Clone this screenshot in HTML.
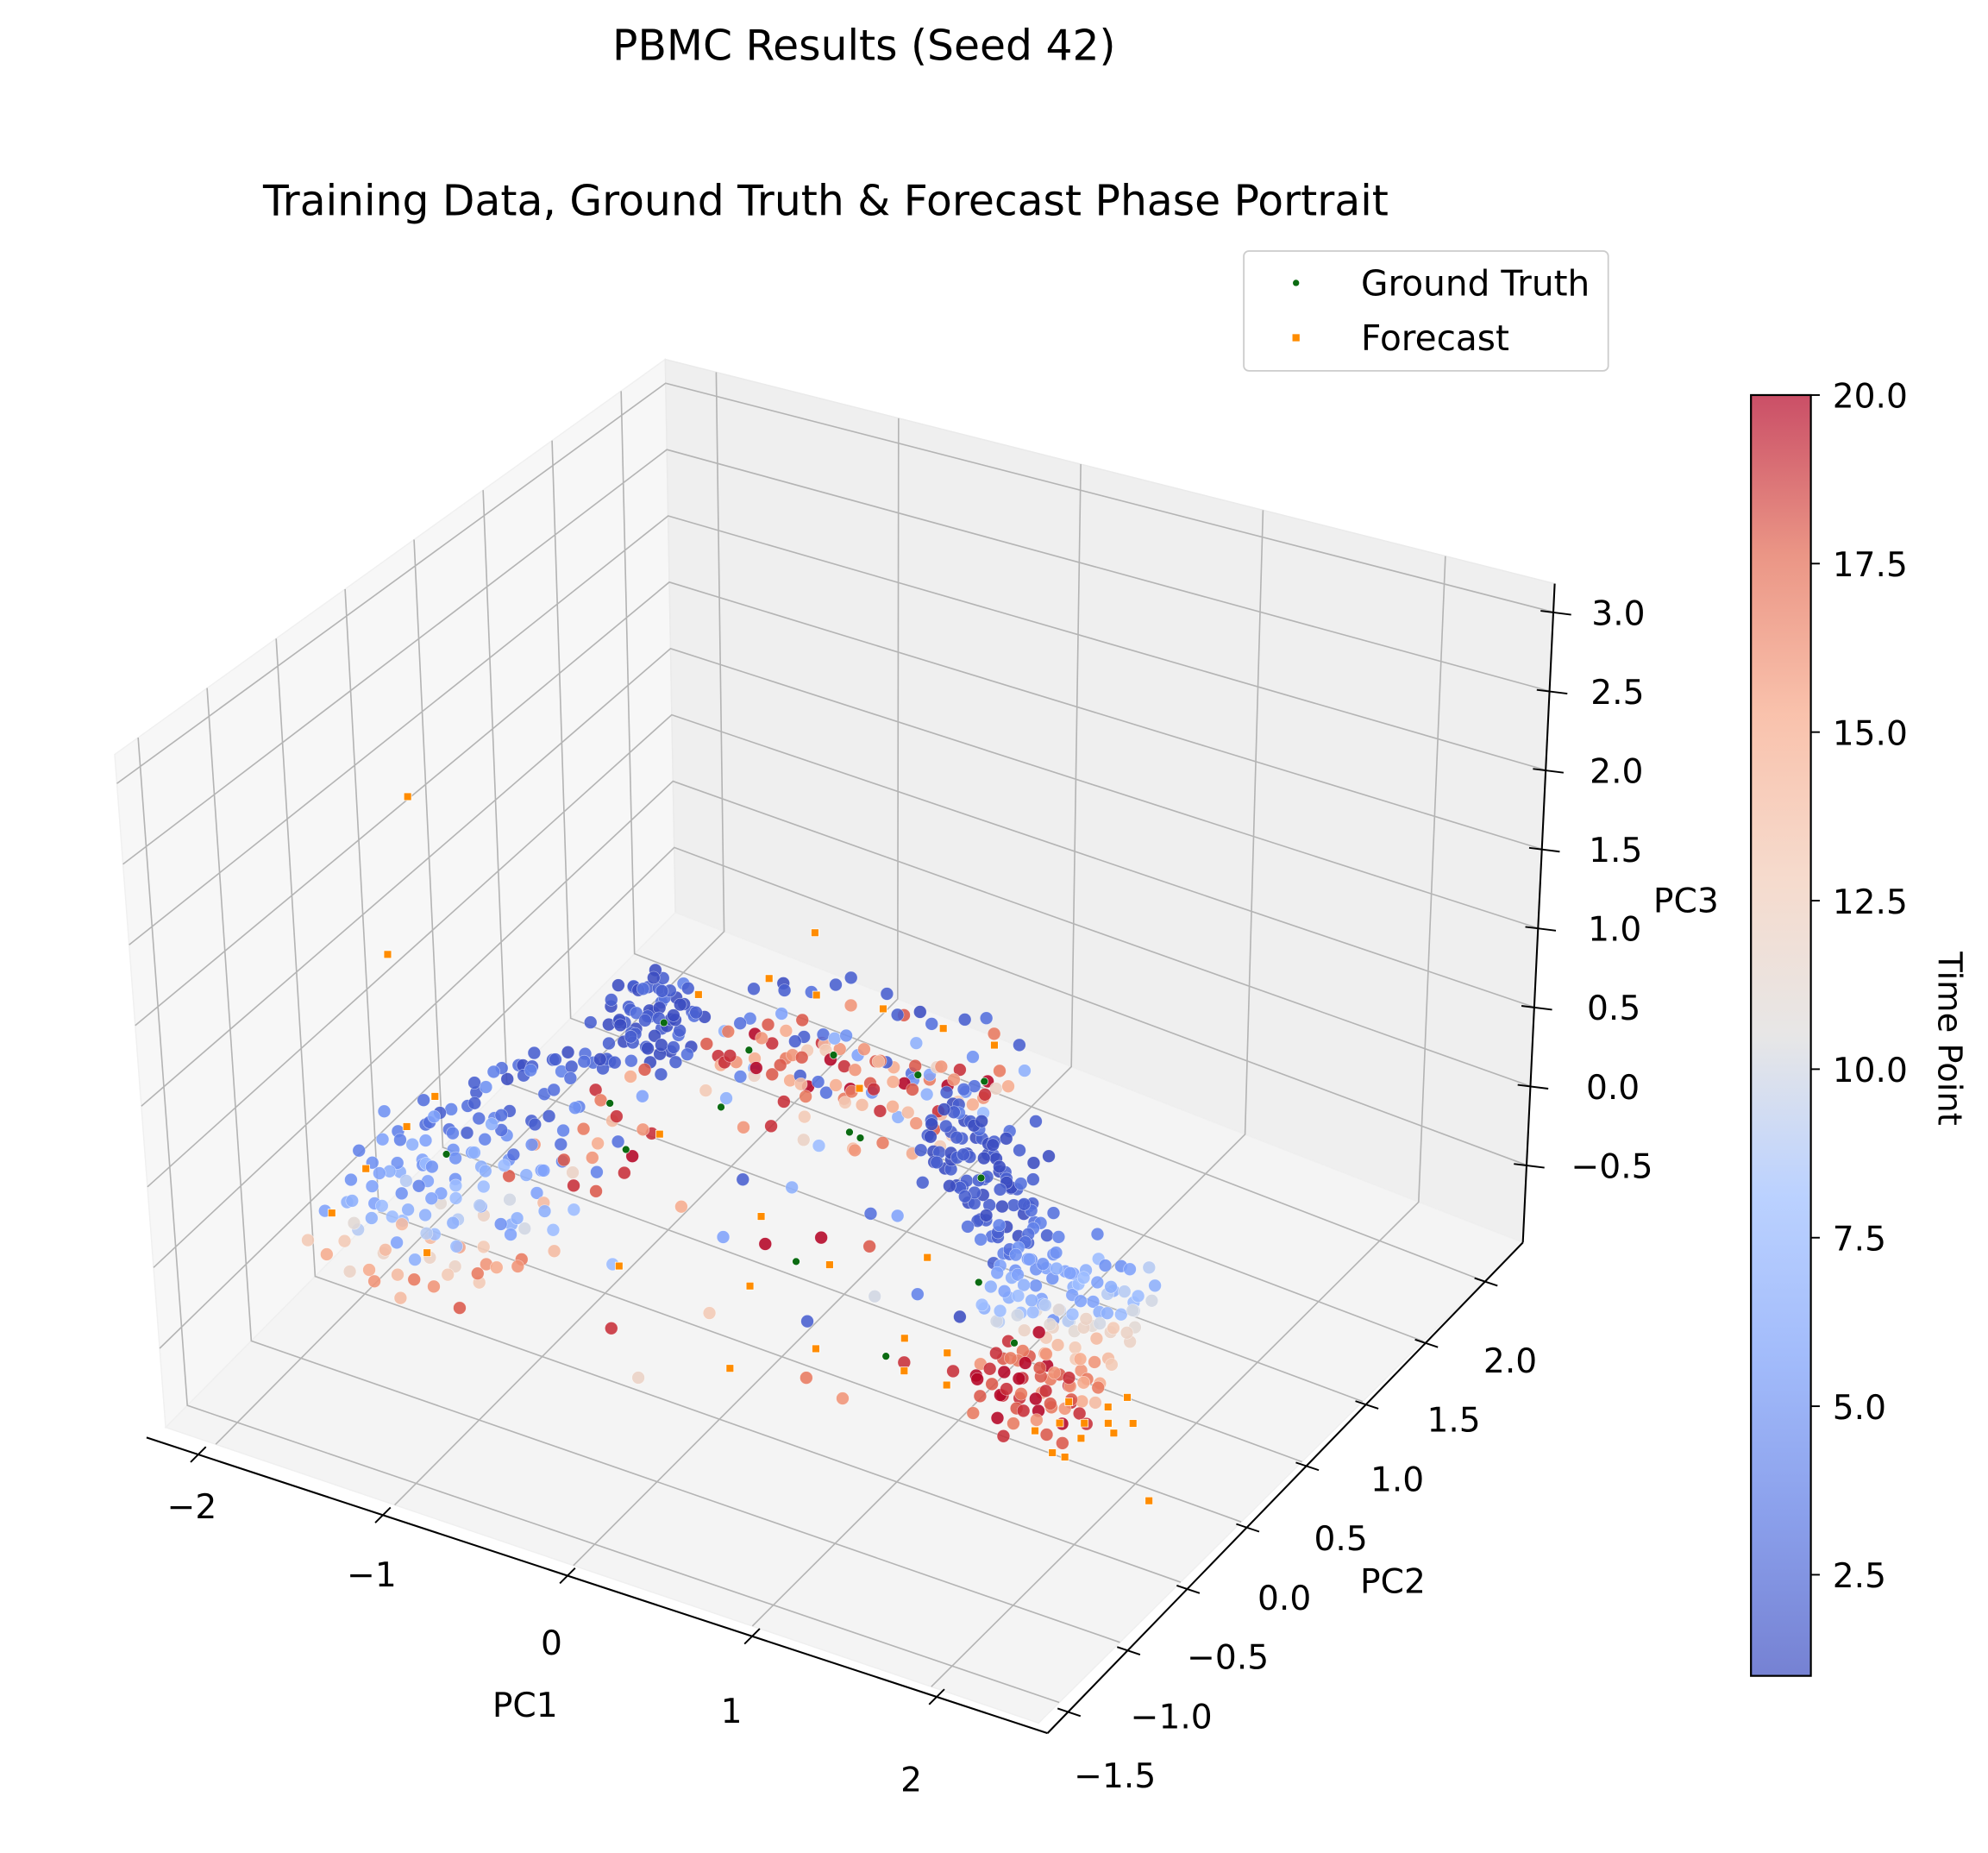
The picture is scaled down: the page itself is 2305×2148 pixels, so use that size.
<!DOCTYPE html>
<html><head><meta charset="utf-8"><style>
html,body{margin:0;padding:0;background:#fff;}
svg{display:block;font-family:"DejaVu Sans","Liberation Sans",sans-serif;}
</style></head><body>
<svg id="chart" width="2305" height="2148" viewBox="0 0 1560 1454" preserveAspectRatio="none" xmlns="http://www.w3.org/2000/svg">
<defs>
<linearGradient id="cbgrad" x1="0" y1="1" x2="0" y2="0">
<stop offset="0" stop-color="#3b4cc0"/><stop offset="0.125" stop-color="#5977e3"/><stop offset="0.25" stop-color="#7b9ff9"/><stop offset="0.375" stop-color="#9ebeff"/><stop offset="0.5" stop-color="#dddcdc"/><stop offset="0.625" stop-color="#f2cbb7"/><stop offset="0.75" stop-color="#f7a889"/><stop offset="0.875" stop-color="#e26952"/><stop offset="1" stop-color="#b40426"/>
</linearGradient>
</defs>
<text x="678" y="47" font-size="33" text-anchor="middle">PBMC Results (Seed 42)</text>
<text x="648" y="169" font-size="33" text-anchor="middle">Training Data, Ground Truth &amp; Forecast Phase Portrait</text>
<g id="panes"></g>
<g id="grid"></g>
<g id="axes"></g>
<g id="points"></g>
<g>
<rect x="976" y="197" width="286" height="94" rx="4" fill="#fff" fill-opacity="0.8" stroke="#cccccc" stroke-width="1.2"/>
<circle cx="1017" cy="222" r="2.5" fill="#0b6b12"/>
<text x="1068" y="232" font-size="27.5">Ground Truth</text>
<rect x="1014.2" y="262.2" width="5.6" height="5.6" fill="#ff8c00"/>
<text x="1068" y="275" font-size="27.5">Forecast</text>
</g>
<g id="colorbar">
<rect x="1374" y="310" width="47" height="1005" fill="url(#cbgrad)" fill-opacity="0.7" stroke="#000" stroke-width="1.5"/>
<text transform="translate(1521,815) rotate(90)" font-size="26" text-anchor="middle">Time Point</text>
</g>
</svg>
<script>
const XMIN=-2.28, XMAX=2.6, YMIN=-1.67, YMAX=2.32, ZMIN=-0.99, ZMAX=3.18;
const xTicks=[-2,-1,0,1,2];
const yTicks=[-1.5,-1.0,-0.5,0.0,0.5,1.0,1.5,2.0];
const zTicks=[-0.5,0.0,0.5,1.0,1.5,2.0,2.5,3.0];
const cbTicks=[2.5,5.0,7.5,10.0,12.5,15.0,17.5,20.0];
const TMIN=1, TMAX=20;

const trainLeft=[[-1.30,-1.55,0.45,13],[-1.22,-1.45,0.55,7],[-1.15,-1.58,0.35,15],[-1.05,-1.50,0.5,6],[-0.98,-1.60,0.4,14],[-0.90,-1.42,0.55,8],[-0.82,-1.55,0.35,16],[-0.75,-1.48,0.45,12],[-0.66,-1.58,0.3,18],[-0.58,-1.40,0.45,15],
[-1.32,-1.30,0.6,6],[-1.25,-1.20,0.7,5],[-1.18,-1.35,0.5,8],[-1.10,-1.25,0.65,4],[-1.02,-1.32,0.55,7],[-0.95,-1.18,0.7,5],[-0.87,-1.28,0.55,9],[-0.80,-1.20,0.6,6],[-0.72,-1.30,0.45,13],[-0.64,-1.15,0.55,7],[-0.55,-1.25,0.4,17],[-0.48,-1.10,0.5,8],
[-1.34,-1.05,0.7,4],[-1.27,-0.95,0.75,3],[-1.20,-1.08,0.65,6],[-1.12,-0.98,0.8,3],[-1.04,-1.05,0.7,5],[-0.97,-0.92,0.75,4],[-0.90,-1.02,0.65,7],[-0.82,-0.95,0.7,5],[-0.75,-1.05,0.55,10],[-0.68,-0.90,0.65,6],[-0.60,-1.00,0.55,14],[-0.52,-0.88,0.6,19],[-0.45,-0.98,0.55,8],
[-1.30,-0.80,0.7,2],[-1.22,-0.70,0.7,3],[-1.14,-0.82,0.65,2],[-1.06,-0.72,0.7,4],[-0.98,-0.78,0.7,3],[-0.90,-0.66,0.7,2],[-0.83,-0.76,0.65,5],[-0.75,-0.65,0.6,3],[-0.67,-0.74,0.6,18],[-0.60,-0.62,0.55,16],[-0.52,-0.70,0.55,4],[-0.44,-0.60,0.5,19],
[-1.28,-0.55,0.65,2],[-1.18,-0.45,0.7,1],[-1.10,-0.55,0.6,2],[-1.00,-0.42,0.65,3],[-0.92,-0.50,0.6,2],[-0.84,-0.38,0.6,4],[-0.76,-0.46,0.55,17],[-0.68,-0.35,0.55,14],[-0.60,-0.42,0.5,3],[-0.50,-0.30,0.5,19],
[-1.20,-1.40,0.3,12],[-1.00,-1.45,0.25,17],[-0.85,-1.40,0.3,13],[-1.28,-1.10,0.5,9],[-1.08,-1.12,0.45,11],[-0.70,-1.12,0.4,6],[-0.92,-0.85,0.55,8],[-1.15,-0.62,0.55,7],
[-1.30,-0.20,0.55,3],[-1.22,-0.05,0.5,2],[-1.15,0.10,0.45,3],[-1.28,0.05,0.4,2],[-1.10,-0.15,0.55,4],[-1.05,0.15,0.4,2],[-1.35,-0.10,0.45,1],[-1.18,0.20,0.3,3],[-0.95,-0.10,0.45,19],[-0.90,0.10,0.4,15],[-0.85,-0.20,0.5,17],[-0.80,0.05,0.35,6]];
const trainLeft2=[[-1.26,-1.50,0.5,9],[-1.10,-1.52,0.45,14],[-0.94,-1.52,0.45,7],[-0.78,-1.40,0.5,15],[-0.62,-1.48,0.4,13],[-0.50,-1.35,0.45,16],
[-1.28,-1.22,0.65,7],[-1.14,-1.16,0.7,5],[-0.98,-1.25,0.65,6],[-0.84,-1.12,0.65,8],[-0.68,-1.22,0.55,5],[-0.56,-1.05,0.55,7],[-0.42,-1.18,0.45,14],
[-1.30,-0.88,0.7,3],[-1.16,-0.90,0.7,4],[-1.00,-0.98,0.7,6],[-0.86,-0.86,0.65,3],[-0.72,-0.96,0.65,7],[-0.58,-0.80,0.6,12],[-0.44,-0.82,0.55,18],
[-1.24,-0.62,0.65,2],[-1.08,-0.64,0.65,3],[-0.94,-0.58,0.6,2],[-0.80,-0.56,0.6,4],[-0.64,-0.52,0.55,15],[-0.48,-0.48,0.5,20],
[-1.20,-0.30,0.6,2],[-1.05,-0.28,0.55,3],[-0.92,-0.30,0.5,5],[-0.75,-0.22,0.45,19],[-0.62,-0.20,0.4,16],
[-1.24,-1.00,0.55,8],[-1.06,-0.88,0.6,7],[-0.88,-1.10,0.5,9],[-0.74,-0.80,0.55,6],[-0.60,-1.15,0.5,10],[-1.34,-1.42,0.45,11],[-1.18,-1.28,0.4,14],[-0.96,-1.38,0.35,12],[-0.70,-1.38,0.35,17]];
const trainLeft3=[[-1.40,-0.40,0.55,2],[-1.32,-0.30,0.6,3],[-1.24,-0.18,0.55,2],[-1.16,-0.30,0.65,4],[-1.08,-0.10,0.55,2],[-1.00,-0.22,0.6,3],[-1.36,0.00,0.45,2],[-1.26,0.12,0.4,1],[-1.12,0.05,0.45,3],[-0.98,0.00,0.5,2],[-1.44,-0.20,0.45,4],[-1.30,-0.45,0.6,5],
[-1.40,-1.55,0.6,6],[-1.36,-1.40,0.7,5],[-1.30,-1.48,0.65,7],[-1.24,-1.35,0.75,6],[-1.16,-1.45,0.65,8],[-1.10,-1.38,0.7,5],[-1.04,-1.42,0.65,7],[-0.96,-1.35,0.7,6],[-0.90,-1.48,0.6,9],[-0.84,-1.36,0.6,7],[-0.76,-1.45,0.55,8],[-1.42,-1.25,0.75,4],[-1.34,-1.18,0.8,6],[-1.20,-1.15,0.8,7],[-1.06,-1.20,0.75,5],[-0.92,-1.22,0.7,8],[-1.45,-1.62,0.45,13],[-1.35,-1.62,0.4,15],[-1.22,-1.63,0.35,12],[-1.08,-1.64,0.35,16],[-0.94,-1.64,0.3,14],[-1.42,-1.05,0.85,5],[-1.20,-0.98,0.85,6]];
const trainLeftCore=[[-1.35,-1.45,0.6,7],[-1.20,-1.45,0.65,6],[-1.05,-1.45,0.6,8],[-0.90,-1.45,0.55,14],[-0.75,-1.45,0.55,6],[-0.60,-1.45,0.5,16],
[-1.35,-1.25,0.7,5],[-1.20,-1.25,0.7,7],[-1.05,-1.25,0.7,6],[-0.90,-1.25,0.65,8],[-0.75,-1.25,0.6,12],[-0.60,-1.25,0.6,7],
[-1.35,-1.05,0.75,4],[-1.20,-1.05,0.75,6],[-1.05,-1.05,0.75,5],[-0.90,-1.05,0.7,7],[-0.75,-1.05,0.7,18],[-0.60,-1.05,0.65,6],
[-1.35,-0.85,0.8,3],[-1.20,-0.85,0.8,4],[-1.05,-0.85,0.8,3],[-0.90,-0.85,0.75,5],[-0.75,-0.85,0.75,16],[-0.60,-0.85,0.7,4]];
const trainBlueCluster=[[-1.20,0.35,0.3,2],[-1.12,0.45,0.35,1],[-1.05,0.55,0.3,2],[-0.98,0.40,0.4,1],[-0.92,0.50,0.35,3],[-1.15,0.60,0.3,2],[-1.08,0.30,0.4,1],[-1.00,0.62,0.25,2],[-0.95,0.32,0.3,1],[-1.18,0.48,0.45,2],[-1.02,0.45,0.5,1],[-0.90,0.58,0.45,2],[-1.10,0.38,0.2,3],[-0.98,0.52,0.2,1],[-1.22,0.55,0.2,2],[-0.88,0.42,0.25,2],[-1.06,0.68,0.4,1],[-1.14,0.25,0.3,2],[-0.94,0.65,0.35,3],[-1.25,0.42,0.35,1],[-1.00,0.28,0.5,2],[-0.85,0.50,0.3,1],[-1.12,0.55,0.55,2],[-1.04,0.40,0.15,18],[-0.96,0.60,0.6,4],
[-1.16,0.42,0.4,2],[-1.08,0.50,0.45,1],[-1.00,0.36,0.35,2],[-0.94,0.44,0.45,1],[-1.10,0.62,0.4,3],[-1.02,0.58,0.35,1],[-0.92,0.36,0.2,2],[-1.20,0.28,0.25,1],[-1.06,0.20,0.35,2],[-0.86,0.62,0.4,1],[-1.26,0.60,0.3,2],[-1.14,0.70,0.35,3],[-0.98,0.72,0.3,2],[-0.88,0.30,0.4,1],[-1.30,0.35,0.4,2],[-0.80,0.40,0.35,3],[-1.18,0.52,0.55,1],[-1.04,0.52,0.6,2],[-0.90,0.52,0.55,1],[-1.12,0.32,0.5,2],
[-1.22,0.40,0.5,1],[-1.15,0.48,0.6,2],[-1.08,0.42,0.65,1],[-1.00,0.50,0.7,2],[-0.95,0.40,0.6,1],[-1.18,0.35,0.6,2],[-1.10,0.58,0.65,1],[-1.02,0.32,0.6,3],[-0.92,0.58,0.6,2],[-1.25,0.50,0.55,1],[-1.05,0.62,0.5,2],[-0.98,0.45,0.3,1],[-1.14,0.45,0.25,2],[-1.20,0.62,0.45,3],[-0.90,0.45,0.5,1],
[-1.16,0.38,0.45,1],[-1.06,0.46,0.45,2],[-0.96,0.52,0.45,1],[-1.12,0.52,0.35,2],[-1.02,0.40,0.3,1],[-0.92,0.46,0.3,2],[-1.20,0.44,0.35,1],[-1.08,0.60,0.5,2],[-0.98,0.60,0.45,1],[-1.04,0.30,0.45,2],[-1.14,0.62,0.55,1],[-0.94,0.38,0.55,2]];
const trainArch=[[-0.80,0.55,0.3,18],[-0.72,0.70,0.35,3],[-0.65,0.45,0.3,15],[-0.58,0.62,0.4,20],[-0.50,0.50,0.25,12],[-0.45,0.75,0.3,2],[-0.38,0.58,0.35,17],[-0.30,0.45,0.2,19],[-0.25,0.70,0.4,14],[-0.18,0.55,0.3,3],[-0.10,0.80,0.35,16],[-0.05,0.62,0.25,20],[0.02,0.48,0.3,13],[0.08,0.72,0.4,2],[0.15,0.85,0.3,18],[0.20,0.60,0.25,15],[0.28,0.78,0.35,6],[0.35,0.92,0.3,19],[0.40,0.70,0.2,14],[0.48,0.85,0.3,3],[0.55,0.95,0.35,17],[0.60,0.75,0.25,8],
[-0.75,0.85,0.45,2],[-0.62,0.90,0.5,1],[-0.50,0.95,0.45,3],[-0.40,1.00,0.5,2],[-0.28,0.95,0.45,16],[-0.15,1.05,0.5,2],[-0.02,1.00,0.45,18],[0.10,1.05,0.4,3],[0.25,1.10,0.45,2],[0.40,1.12,0.4,17],[0.52,1.15,0.35,2],
[-0.70,0.40,0.15,13],[-0.55,0.35,0.2,7],[-0.42,0.30,0.1,16],[-0.28,0.32,0.15,19],[-0.12,0.35,0.1,12],[0.00,0.30,0.15,8],[0.12,0.40,0.1,14],[0.25,0.45,0.15,17],[0.38,0.50,0.1,10],[0.50,0.55,0.15,13],
[-0.60,0.78,0.2,19],[-0.35,0.85,0.2,13],[-0.08,0.90,0.2,17],[0.18,0.98,0.2,12],[0.45,1.00,0.2,20],[0.30,0.62,0.45,5],[-0.20,0.62,0.55,3],[0.05,0.85,0.6,2],
[-0.75,0.62,0.35,7],[-0.68,0.52,0.25,19],[-0.60,0.70,0.3,16],[-0.52,0.42,0.3,4],[-0.44,0.62,0.25,18],[-0.36,0.72,0.3,13],[-0.28,0.55,0.3,2],[-0.20,0.48,0.25,17],[-0.14,0.70,0.3,19],[-0.06,0.52,0.35,15],[0.04,0.65,0.3,18],[0.12,0.55,0.35,5],[0.18,0.72,0.3,20],[0.26,0.90,0.3,16],[0.32,0.55,0.3,14],[0.44,0.62,0.3,19],[0.52,0.78,0.25,15],[0.58,0.88,0.3,12],[0.36,0.80,0.25,2],[-0.02,0.80,0.3,14],[-0.48,0.85,0.35,18],[-0.30,0.85,0.3,7],[0.00,1.10,0.4,1],[-0.40,1.12,0.45,2],[0.30,1.20,0.4,3],[-0.65,0.95,0.4,2],[0.62,1.05,0.3,7],[-0.15,0.40,0.2,13],[0.20,0.30,0.2,16],[0.45,0.40,0.2,15],
[-0.70,0.58,0.4,17],[-0.62,0.48,0.35,19],[-0.54,0.56,0.3,15],[-0.46,0.46,0.35,20],[-0.40,0.66,0.3,16],[-0.32,0.62,0.35,18],[-0.24,0.50,0.3,14],[-0.16,0.62,0.4,20],[-0.08,0.70,0.3,16],[0.00,0.56,0.3,17],[0.08,0.62,0.3,19],[0.16,0.66,0.35,15],[0.24,0.70,0.3,18],[0.32,0.70,0.3,7],[0.40,0.80,0.35,16],[0.48,0.72,0.3,13],[0.56,0.82,0.3,19],[0.62,0.92,0.3,15],[-0.56,0.80,0.4,6],[-0.20,0.80,0.4,5],[0.12,0.90,0.4,7],[0.38,0.98,0.35,5]];
const trainArchCore=[[-0.7,0.5,0.3,19],[-0.6,0.5,0.3,16],[-0.5,0.5,0.3,6],[-0.4,0.5,0.3,18],[-0.3,0.5,0.3,15],[-0.2,0.5,0.3,20],[-0.1,0.5,0.3,3],[0.0,0.5,0.3,17],[0.1,0.5,0.3,14],[0.2,0.5,0.3,19],[0.3,0.5,0.3,7],[0.4,0.5,0.3,16],[0.5,0.5,0.3,18],[0.6,0.5,0.3,13],
[-0.7,0.75,0.35,4],[-0.6,0.75,0.35,18],[-0.5,0.75,0.35,15],[-0.4,0.75,0.35,2],[-0.3,0.75,0.35,19],[-0.2,0.75,0.35,16],[-0.1,0.75,0.35,6],[0.0,0.75,0.35,18],[0.1,0.75,0.35,15],[0.2,0.75,0.35,3],[0.3,0.75,0.35,17],[0.4,0.75,0.35,20],[0.5,0.75,0.35,5],[0.6,0.75,0.35,16]];
const trainRightBlue=[[0.45,0.55,0.3,2],[0.55,0.40,0.35,1],[0.62,0.55,0.25,2],[0.70,0.35,0.3,1],[0.75,0.50,0.4,3],[0.82,0.30,0.25,2],[0.88,0.45,0.3,1],[0.95,0.25,0.35,2],[1.00,0.40,0.2,1],[1.05,0.15,0.3,2],[1.12,0.30,0.35,3],[1.18,0.10,0.25,1],[1.22,0.25,0.3,2],[1.30,0.02,0.3,1],[1.35,0.18,0.2,2],[0.60,0.25,0.4,2],[0.72,0.62,0.2,1],[0.85,0.60,0.35,3],[0.92,0.10,0.4,2],[1.02,0.55,0.25,1],[1.10,-0.02,0.35,2],[1.25,0.38,0.15,3],[0.50,0.70,0.25,4],[0.68,0.15,0.3,2],[1.40,-0.05,0.35,2],[0.80,0.20,0.5,1],[0.98,0.62,0.45,2],[1.15,0.48,0.4,1],[0.58,0.62,0.5,3],[1.28,-0.15,0.25,2],
[0.50,0.48,0.35,1],[0.58,0.52,0.3,2],[0.66,0.45,0.35,2],[0.74,0.42,0.3,1],[0.80,0.55,0.3,2],[0.86,0.38,0.35,1],[0.92,0.32,0.3,2],[0.98,0.20,0.3,1],[1.04,0.30,0.35,2],[1.08,0.08,0.3,1],[1.15,0.20,0.3,2],[1.20,0.00,0.3,2],[1.26,0.12,0.35,1],[1.32,-0.08,0.3,3],[0.64,0.30,0.3,1],[0.78,0.28,0.4,2],[0.90,0.50,0.4,1],[1.00,0.10,0.4,2],[1.12,0.40,0.3,2],[1.24,-0.05,0.4,4],[0.70,0.50,0.2,2],[0.96,0.42,0.2,1],[1.18,0.30,0.2,3],[1.36,0.05,0.35,4],[0.54,0.60,0.35,2],
[0.52,0.55,0.4,1],[0.60,0.45,0.4,2],[0.68,0.56,0.35,1],[0.76,0.36,0.35,2],[0.84,0.48,0.35,1],[0.90,0.28,0.3,2],[0.96,0.36,0.35,1],[1.06,0.22,0.35,2],[1.14,0.12,0.35,1],[1.22,0.18,0.35,2],[1.30,0.10,0.25,3],[0.62,0.35,0.25,2],[0.74,0.28,0.2,1],[0.88,0.20,0.25,2],[1.02,0.02,0.25,3],[1.16,-0.08,0.3,4],[0.66,0.65,0.3,1],[0.94,0.55,0.3,2]];
const trainRightBlueCore=[[0.50,0.65,0.35,1],[0.56,0.61,0.4,2],[0.62,0.57,0.35,1],[0.68,0.53,0.4,2],[0.74,0.49,0.35,1],[0.80,0.45,0.4,2],[0.86,0.41,0.35,1],[0.92,0.37,0.4,2],[0.98,0.33,0.35,1],[1.04,0.29,0.4,2],[1.10,0.25,0.35,1],[1.16,0.21,0.4,2],[1.22,0.17,0.35,3],[1.28,0.13,0.4,2],[1.34,0.09,0.35,3],[1.40,0.05,0.4,4],
[0.50,0.45,0.3,2],[0.56,0.41,0.25,1],[0.62,0.37,0.3,2],[0.68,0.33,0.25,1],[0.74,0.29,0.3,2],[0.80,0.25,0.25,1],[0.86,0.21,0.3,2],[0.92,0.17,0.25,1],[0.98,0.13,0.3,2],[1.04,0.09,0.25,1],[1.10,0.05,0.3,2],[1.16,0.01,0.25,3],[1.22,-0.03,0.3,2],[1.28,-0.07,0.25,4],[1.34,-0.11,0.3,3],[1.40,-0.15,0.25,5]];
const trainRightLight=[[1.35,-0.20,0.3,6],[1.42,-0.05,0.25,5],[1.48,-0.30,0.35,7],[1.55,-0.12,0.3,6],[1.60,-0.40,0.25,8],[1.65,-0.22,0.35,5],[1.72,-0.05,0.3,7],[1.78,-0.35,0.3,9],[1.85,-0.18,0.25,6],[1.90,-0.45,0.35,10],[1.95,-0.28,0.3,7],[2.02,-0.10,0.25,8],[2.08,-0.38,0.3,12],[1.50,0.05,0.35,4],[1.62,0.00,0.2,6],[1.75,-0.50,0.4,11],[1.88,0.00,0.35,5],[2.00,-0.55,0.3,13],[1.40,-0.40,0.2,7],[1.58,-0.55,0.3,9],[1.70,-0.28,0.15,5],[1.82,-0.10,0.45,8],[1.96,-0.05,0.4,6],[2.12,-0.25,0.35,10],[2.15,-0.50,0.25,14],[1.45,-0.15,0.45,3],[1.68,0.10,0.4,4],[1.92,-0.62,0.45,12],
[1.38,-0.10,0.35,5],[1.46,-0.22,0.3,6],[1.52,-0.38,0.3,7],[1.58,-0.25,0.3,5],[1.64,-0.10,0.3,6],[1.68,-0.42,0.3,8],[1.74,-0.18,0.3,7],[1.80,-0.28,0.35,6],[1.86,-0.40,0.3,9],[1.92,-0.12,0.3,7],[1.98,-0.38,0.3,11],[2.05,-0.25,0.3,8],[2.10,-0.05,0.35,7],[1.52,-0.02,0.3,5],[1.60,-0.60,0.35,10],[1.72,-0.55,0.3,12],[1.84,-0.55,0.3,13],[1.96,-0.50,0.35,11],[2.05,-0.45,0.3,14],[2.20,-0.40,0.3,12],[1.44,-0.48,0.3,8],[1.78,0.02,0.3,5],[2.00,0.05,0.35,9],[1.62,-0.15,0.45,5],
[1.40,-0.30,0.35,6],[1.50,-0.20,0.4,5],[1.56,-0.32,0.35,7],[1.66,-0.32,0.3,6],[1.72,-0.40,0.35,7],[1.78,-0.20,0.35,8],[1.86,-0.30,0.35,6],[1.94,-0.20,0.35,9],[2.02,-0.32,0.35,7],[2.08,-0.20,0.3,10],[1.54,-0.48,0.3,8],[1.66,-0.52,0.35,10],[1.80,-0.46,0.3,11],[1.92,-0.36,0.25,12],[2.16,-0.30,0.3,11],[1.48,-0.10,0.25,5],
[1.40,-0.15,0.35,5],[1.475,-0.15,0.35,6],[1.55,-0.15,0.35,5],[1.625,-0.15,0.35,7],[1.70,-0.15,0.35,6],[1.775,-0.15,0.35,8],[1.85,-0.15,0.35,6],[1.925,-0.15,0.35,7],[2.00,-0.15,0.35,9],[2.075,-0.15,0.35,8],[2.15,-0.15,0.35,10],
[1.40,-0.35,0.3,7],[1.475,-0.35,0.3,6],[1.55,-0.35,0.3,8],[1.625,-0.35,0.3,7],[1.70,-0.35,0.3,9],[1.775,-0.35,0.3,11],[1.85,-0.35,0.3,8],[1.925,-0.35,0.3,12],[2.00,-0.35,0.3,10],[2.075,-0.35,0.3,13],[2.15,-0.35,0.3,12]];
const trainRightRed=[[1.70,-0.65,0.3,19],[1.78,-0.80,0.25,20],[1.85,-0.70,0.3,18],[1.92,-0.88,0.2,19],[2.00,-0.75,0.25,17],[2.05,-0.92,0.2,20],[2.12,-0.68,0.3,16],[2.18,-0.85,0.25,19],[2.25,-0.72,0.3,15],[1.75,-0.95,0.2,18],[1.88,-1.00,0.15,20],[2.00,-1.05,0.2,17],[2.15,-1.00,0.15,18],[1.65,-0.80,0.25,16],[1.95,-0.62,0.35,14],[2.30,-0.90,0.2,19],[1.82,-0.58,0.35,20],[2.22,-0.58,0.3,13],[1.60,-0.95,0.3,19],[2.08,-0.80,0.35,18],
[1.72,-0.72,0.25,18],[1.80,-0.68,0.3,17],[1.88,-0.80,0.25,19],[1.96,-0.72,0.3,20],[2.02,-0.85,0.25,16],[2.10,-0.75,0.25,19],[2.18,-0.72,0.3,17],[2.22,-0.82,0.25,15],[1.84,-0.90,0.2,19],[1.95,-0.95,0.2,18],[2.08,-0.98,0.2,16],[2.20,-0.95,0.2,20],[1.68,-0.88,0.25,20],[1.76,-1.02,0.15,17],[2.28,-0.80,0.25,14],[1.90,-0.65,0.3,15],[2.05,-0.62,0.3,13],[2.14,-0.60,0.3,16],[1.98,-1.10,0.15,19],[2.25,-1.02,0.15,18],
[1.74,-0.86,0.3,19],[1.82,-0.75,0.3,17],[1.90,-0.86,0.3,20],[1.98,-0.80,0.3,18],[2.06,-0.88,0.3,19],[2.14,-0.80,0.3,16],[2.20,-0.88,0.3,18],[1.86,-0.95,0.25,20],[2.02,-1.00,0.25,19],[2.12,-0.92,0.25,17],[1.94,-0.70,0.35,16],[2.10,-0.66,0.35,15],
[1.70,-0.75,0.3,19],[1.78,-0.75,0.3,17],[1.86,-0.75,0.3,20],[1.94,-0.75,0.3,18],[2.02,-0.75,0.3,16],[2.10,-0.75,0.3,19],[2.18,-0.75,0.3,15],[2.26,-0.75,0.3,17],
[1.70,-0.90,0.25,20],[1.78,-0.90,0.25,18],[1.86,-0.90,0.25,19],[1.94,-0.90,0.25,17],[2.02,-0.90,0.25,20],[2.10,-0.90,0.25,18],[2.18,-0.90,0.25,16],[2.26,-0.90,0.25,19]];
const trainSparse=[[-0.30,-0.90,0.2,8],[-0.10,-1.20,0.1,19],[0.10,-0.60,0.3,6],[0.30,-1.00,0.2,13],[0.50,-0.40,0.3,20],[0.70,-0.80,0.15,2],[0.90,-1.10,0.1,17],[1.10,-0.50,0.25,4],[1.30,-0.90,0.2,19],[0.20,-0.20,0.35,7],[0.60,-0.15,0.3,3],[0.80,-0.45,0.4,18],[1.00,-0.70,0.35,10],[1.20,-1.25,0.2,16],[-0.20,-0.50,0.3,15],[0.40,-0.70,0.45,20],[0.00,-0.30,0.4,2],[1.40,-0.60,0.3,1],[0.85,-0.30,0.5,6],[0.15,-1.35,0.0,12]];
const groundTruth=[[-1.0,0.5,0.4],[-0.6,0.6,0.3],[-0.2,0.7,0.35],[0.2,0.8,0.3],[0.5,0.9,0.3],[-0.8,-0.2,0.5],[-0.4,0.1,0.4],[0.1,0.4,0.2],[0.9,0.3,0.3],[1.3,-0.3,0.25],[1.7,-0.6,0.25],[0.5,-0.6,0.3],[1.2,-0.9,0.2],[-1.2,-0.9,0.55],[0.3,0.2,0.4],[-0.5,-0.5,0.55]];
const forecast=[[-2.0,0.0,1.9],[-2.0,-0.2,1.0],[2.5,-0.65,-0.4],
[2.25,-1.05,0.3],[2.32,-0.95,0.25],[2.40,-1.10,0.3],[2.45,-0.90,0.2],[2.20,-0.90,0.3],[2.35,-0.80,0.25],[2.48,-1.00,0.35],[2.28,-1.15,0.2],[2.42,-0.75,0.3],[2.15,-1.10,0.25],[2.52,-0.85,0.25],[2.38,-1.20,0.25],
[1.60,-1.00,0.25],[1.50,-0.85,0.3],[1.40,-1.05,0.3],
[-1.40,-1.50,0.55],[-1.35,-1.30,0.7],[-1.30,-1.05,0.8],[-1.25,-0.90,0.9],[-0.85,-1.55,0.55],
[-0.95,0.70,0.45],[-0.70,0.90,0.5],[-0.40,0.85,0.55],[-0.10,0.95,0.5],[0.20,1.00,0.45],[0.45,1.05,0.4],[-0.55,1.05,0.75],[0.05,0.55,0.35],
[0.10,-0.30,0.2],[0.35,-0.75,0.2],[0.65,-0.55,0.3],[0.85,-0.95,0.15],[1.05,-0.35,0.35],[-0.30,-0.85,0.15],[0.55,-1.20,0.1],[1.20,-0.75,0.2],[-0.60,-0.10,0.3]];

const NS="http://www.w3.org/2000/svg";
const C={p000:[130,1120],p100:[815,1352],p110:[1195,975],p010:[530,716],p001:[90,592],p101:[840,835],p111:[1220,458],p011:[522,282]};
function lerp(a,b,t){return [a[0]+(b[0]-a[0])*t,a[1]+(b[1]-a[1])*t];}
function proj(x,y,z){
  const u=(x-XMIN)/(XMAX-XMIN), v=(y-YMIN)/(YMAX-YMIN), w=(z-ZMIN)/(ZMAX-ZMIN);
  const a=lerp(lerp(C.p000,C.p100,u),lerp(C.p010,C.p110,u),v);
  const b=lerp(lerp(C.p001,C.p101,u),lerp(C.p011,C.p111,u),v);
  return lerp(a,b,w);
}
const AX1=[[115,1128],[822,1360]], AX2=[[822,1360],[1195,975]], AX3=[[1195,975],[1220,458]];
function xAxisPt(x){return lerp(AX1[0],AX1[1],(x-XMIN)/(XMAX-XMIN));}
function yAxisPt(y){return lerp(AX2[0],AX2[1],(y-YMIN)/(YMAX-YMIN));}
function zAxisPt(z){return lerp(AX3[0],AX3[1],(z-ZMIN)/(ZMAX-ZMIN));}
function cbY(t){return 310+(TMAX-t)/(TMAX-TMIN)*1005;}
const stops=[[59,76,192],[89,119,227],[123,159,249],[158,190,255],[221,220,220],[242,203,183],[247,168,137],[226,105,82],[180,4,38]];
function cmap(t){
  let f=Math.max(0,Math.min(1,(t-TMIN)/(TMAX-TMIN)))*(stops.length-1);
  const i=Math.min(stops.length-2,Math.floor(f)); f-=i;
  const c=stops[i].map((s,k)=>Math.round(s+(stops[i+1][k]-s)*f));
  return `rgb(${c[0]},${c[1]},${c[2]})`;
}
function mk(tag,attrs,parent){const e=document.createElementNS(NS,tag);for(const k in attrs)e.setAttribute(k,attrs[k]);parent.appendChild(e);return e;}
function poly(pts){return pts.map(p=>p[0].toFixed(1)+','+p[1].toFixed(1)).join(' ');}

const panes=document.getElementById('panes');
let e;
e=mk('polygon',{points:poly([C.p000,C.p010,C.p011,C.p001]),fill:'#f7f7f7',stroke:'#f0f0f0'},panes);


e=mk('polygon',{points:poly([C.p010,C.p110,C.p111,C.p011]),fill:'#efefef',stroke:'#eaeaea'},panes);


e=mk('polygon',{points:poly([C.p000,C.p100,C.p110,C.p010]),fill:'#f4f4f4',stroke:'#efefef'},panes);



const grid=document.getElementById('grid');
const gs={fill:'none',stroke:'#b4b4b4','stroke-width':1.1};
xTicks.forEach(x=>{
  e=mk('polyline',Object.assign({points:poly([proj(x,YMIN,ZMIN),proj(x,YMAX,ZMIN),proj(x,YMAX,ZMAX)])},gs),grid);
  
  
});
yTicks.forEach(y=>{
  e=mk('polyline',Object.assign({points:poly([proj(XMAX,y,ZMIN),proj(XMIN,y,ZMIN),proj(XMIN,y,ZMAX)])},gs),grid);
  
  
});
zTicks.forEach(z=>{
  e=mk('polyline',Object.assign({points:poly([proj(XMIN,YMIN,z),proj(XMIN,YMAX,z),proj(XMAX,YMAX,z)])},gs),grid);
  
  
});

const axes=document.getElementById('axes');
[AX1,AX2,AX3].forEach((a,i)=>{
  e=mk('line',{x1:a[0][0],y1:a[0][1],x2:a[1][0],y2:a[1][1],stroke:'#000','stroke-width':1.4},axes);
  
  
});
function fmtMinus(s){return s.replace('-','\u2212');}
const TF=26.5;
xTicks.forEach(x=>{
  const p=xAxisPt(x), f=(x-XMIN)/(XMAX-XMIN);
  e=mk('line',{x1:p[0]-6,y1:p[1]+6,x2:p[0]+6,y2:p[1]-6,stroke:'#000','stroke-width':1.3},axes);
  
  
  const dx=-5+(-20+5)*(f-0.057)/0.82, dy=40+(64-40)*(f-0.057)/0.82;
  e=mk('text',{x:p[0]+dx,y:p[1]+dy+10,'font-size':TF,'text-anchor':'middle'},axes);
  e.textContent=fmtMinus(String(x));
  
  
});
yTicks.forEach(y=>{
  const p=yAxisPt(y), f=(y-YMIN)/(YMAX-YMIN);
  e=mk('line',{x1:p[0]-8,y1:p[1]-3,x2:p[0]+10,y2:p[1]+3,stroke:'#000','stroke-width':1.3},axes);
  
  
  const dx=37+(20-37)*(f-0.043)/0.877, dy=49+(61-49)*(f-0.043)/0.877;
  e=mk('text',{x:p[0]+dx,y:p[1]+dy+10,'font-size':TF,'text-anchor':'middle'},axes);
  e.textContent=fmtMinus(y.toFixed(1));
  
  
});
zTicks.forEach(z=>{
  const p=zAxisPt(z), f=(z-ZMIN)/(ZMAX-ZMIN);
  e=mk('line',{x1:p[0]-10,y1:p[1]-1,x2:p[0]+14,y2:p[1]+2,stroke:'#000','stroke-width':1.3},axes);
  
  
  const dx=67+(51-67)*(f-0.118)/0.84;
  e=mk('text',{x:p[0]+dx,y:p[1]+10,'font-size':TF,'text-anchor':'middle'},axes);
  e.textContent=fmtMinus(z.toFixed(1));
  
  
});
e=mk('text',{x:412,y:1347,'font-size':TF,'text-anchor':'middle'},axes);
e.textContent='PC1';


e=mk('text',{x:1093,y:1250,'font-size':TF,'text-anchor':'middle'},axes);
e.textContent='PC2';


e=mk('text',{x:1323,y:716,'font-size':TF,'text-anchor':'middle'},axes);
e.textContent='PC3';



const pts=document.getElementById('points');
[trainSparse,trainLeftCore,trainLeft,trainLeft2,trainLeft3,trainBlueCluster,trainArchCore,trainArch,trainRightBlueCore,trainRightBlue,trainRightLight,trainRightRed].forEach(arr=>{
  arr.forEach(d=>{
    const p=proj(d[0],d[1],d[2]);
    e=mk('circle',{cx:p[0].toFixed(1),cy:p[1].toFixed(1),r:5,fill:cmap(d[3]),'fill-opacity':0.88,stroke:'#fff','stroke-width':0.4,'stroke-opacity':0.6},pts);
    
    
  });
});
groundTruth.forEach(d=>{
  const p=proj(d[0],d[1],d[2]);
  e=mk('circle',{cx:p[0].toFixed(1),cy:p[1].toFixed(1),r:3,fill:'#0b6b12',stroke:'#fff','stroke-width':0.4},pts);
  
  
});
forecast.forEach(d=>{
  const p=proj(d[0],d[1],d[2]);
  e=mk('rect',{x:(p[0]-3).toFixed(1),y:(p[1]-3).toFixed(1),width:6,height:6,fill:'#ff8c00',stroke:'#fff','stroke-width':0.5},pts);
  
  
});

const cb=document.getElementById('colorbar');
cbTicks.forEach(t=>{
  const y=cbY(t);
  e=mk('line',{x1:1421,y1:y,x2:1428,y2:y,stroke:'#000','stroke-width':1.3},cb);
  
  
  e=mk('text',{x:1438,y:y+10,'font-size':TF},cb);
  e.textContent=t.toFixed(1);
  
  
});
</script>
</body></html>
